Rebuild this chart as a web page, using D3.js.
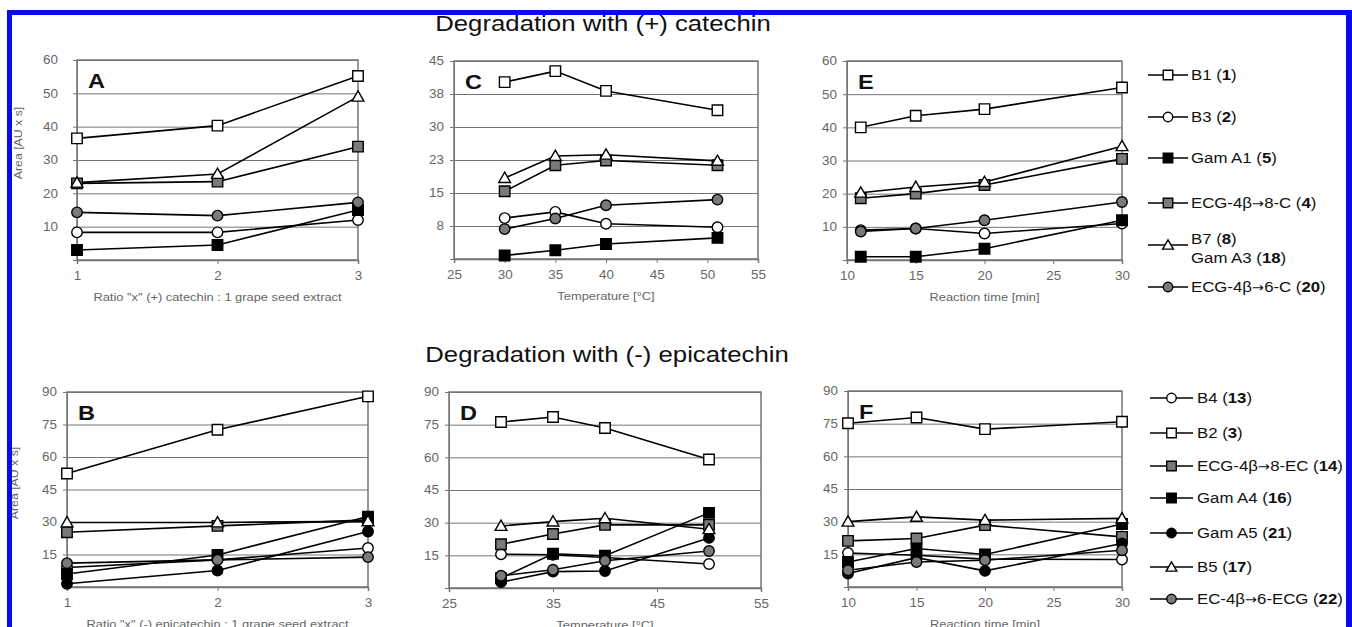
<!DOCTYPE html>
<html>
<head>
<meta charset="utf-8">
<script src="https://cdn.jsdelivr.net/npm/d3@7"></script>
<style>
  html, body { margin: 0; padding: 0; background: #fff; }
  svg { display: block; font-family: "Liberation Sans", Arial, sans-serif; }
</style>
</head>
<body>
<div id="chart"></div>
<script>
// ---- data ----
const titleTop = "Degradation with (+) catechin";
const titleBottom = "Degradation with (-) epicatechin";

const xRatio = [1, 2, 3];
const xTempTop = [30, 35, 40, 51];
const xTimeTop = [11, 15, 20, 30];
const xTempBottom = [30, 35, 40, 50];
const xTimeBottom = [10, 15, 20, 30];

const ticksRatio = [1, 2, 3];
const ticksTempTop = [25, 30, 35, 40, 45, 50, 55];
const ticksTempBottom = [25, 35, 45, 55];
const ticksTime = [10, 15, 20, 25, 30];
const ticksY60 = [10, 20, 30, 40, 50, 60];
const ticksY45 = [7.5, 15, 22.5, 30, 37.5, 45];
const ticksY90 = [15, 30, 45, 60, 75, 90];

// legend order: B1, B3, Gam A1, ECG-4b-8-C, B7/Gam A3, ECG-4b-6-C
const topLabels = [
  [["B1", "1"]], [["B3", "2"]], [["Gam A1", "5"]], [["ECG-4β→8-C", "4"]],
  [["B7", "8"], ["Gam A3", "18"]], [["ECG-4β→6-C", "20"]]
];
const topMarkers = ["sqOpen", "circOpen", "sqBlack", "sqGray", "triOpen", "circGray"];

const valuesA = [
  [36.5, 40.3, 55.2],
  [8.3, 8.3, 12],
  [3, 4.5, 15],
  [23, 23.5, 34],
  [23.2, 25.8, 49],
  [14.3, 13.3, 17.3]
];
const valuesC = [
  [40.2, 42.7, 38.2, 33.8],
  [9.3, 10.7, 8, 7.2],
  [0.8, 2, 3.4, 4.8],
  [15.4, 21.3, 22.4, 21.3],
  [18.4, 23.4, 23.7, 22.3],
  [6.8, 9.2, 12.2, 13.5]
];
const valuesE = [
  [40, 43.5, 45.5, 52],
  [9, 9.5, 8, 11],
  [1, 1, 3.4, 12],
  [18.6, 20, 22.6, 30.5],
  [20.3, 22, 23.5, 34.3],
  [8.6, 9.5, 12, 17.5]
];

// legend order: B4, B2, ECG-4b-8-EC, Gam A4, Gam A5, B5, EC-4b-6-ECG
const bottomLabels = [
  [["B4", "13"]], [["B2", "3"]], [["ECG-4β→8-EC", "14"]], [["Gam A4", "16"]],
  [["Gam A5", "21"]], [["B5", "17"]], [["EC-4β→6-ECG", "22"]]
];
const bottomMarkers = ["circOpen", "sqOpen", "sqGray", "sqBlack", "circBlack", "triOpen", "circGray"];

const valuesB = [
  [9, 12.5, 18],
  [52.4, 72.6, 88],
  [25.3, 28.2, 31],
  [6, 14.8, 32.5],
  [1.5, 7.6, 25.6],
  [29.8, 29.8, 30.3],
  [11, 12.5, 13.8]
];
const valuesD = [
  [15.5, 15.3, 14, 11],
  [76.2, 78.5, 73.5, 59],
  [20.1, 24.8, 29, 29],
  [4.5, 15.7, 14.8, 34.5],
  [2.7, 7.5, 7.8, 23],
  [28.5, 30.5, 32, 27],
  [5.6, 8.4, 12.5, 17]
];
const valuesF = [
  [15.6, 14.6, 12.8, 12.6],
  [75.2, 77.8, 72.5, 75.9],
  [21.2, 22.3, 28.4, 23],
  [11.5, 17.7, 14.9, 28.9],
  [6.2, 13.5, 7.4, 20],
  [30, 32.2, 30.7, 31.5],
  [7.7, 11.5, 12.3, 16.9]
];

// ---- layout ----
const W = 1352, H = 627;
const STRETCH = 1.12; // the scanned figure is a bit wider than tall
const gridColor = "#757575";
const tickColor = "#666";

const panels = [
  { letter: "A", box: [77, 60, 358, 260], xs: xRatio, xDomain: [1, 3], xTicks: ticksRatio,
    yDomain: [0, 60], yTicks: ticksY60, values: valuesA, markers: topMarkers,
    xLabel: 'Ratio "x" (+) catechin : 1 grape seed extract', yLabel: [22, 143], labelGap: 17 },
  { letter: "C", box: [454, 61, 758, 259], xs: xTempTop, xDomain: [25, 55], xTicks: ticksTempTop,
    yDomain: [0, 45], yTicks: ticksY45, values: valuesC, markers: topMarkers,
    xLabel: "Temperature [°C]", labelGap: 9 },
  { letter: "E", box: [847, 61, 1122, 260], xs: xTimeTop, xDomain: [10, 30], xTicks: ticksTime,
    yDomain: [0, 60], yTicks: ticksY60, values: valuesE, markers: topMarkers,
    xLabel: "Reaction time [min]", labelGap: 9 },
  { letter: "B", box: [67, 392, 368, 587], xs: xRatio, xDomain: [1, 3], xTicks: ticksRatio,
    yDomain: [0, 90], yTicks: ticksY90, values: valuesB, markers: bottomMarkers,
    xLabel: 'Ratio "x" (-) epicatechin : 1 grape seed extract', yLabel: [18, 483], labelGap: 9 },
  { letter: "D", box: [449, 392, 761, 588], xs: xTempBottom, xDomain: [25, 55], xTicks: ticksTempBottom,
    yDomain: [0, 90], yTicks: ticksY90, values: valuesD, markers: bottomMarkers,
    xLabel: "Temperature [°C]", labelGap: 9 },
  { letter: "F", box: [848, 391, 1122, 587], xs: xTimeBottom, xDomain: [10, 30], xTicks: ticksTime,
    yDomain: [0, 90], yTicks: ticksY90, values: valuesF, markers: bottomMarkers,
    xLabel: "Reaction time [min]", labelGap: 9 }
];

const svg = d3.select("#chart").append("svg")
  .attr("width", W).attr("height", H)
  .attr("viewBox", `0 0 ${W} ${H}`);

svg.append("rect").attr("width", W).attr("height", H).attr("fill", "#fff");

function stretchedText(parent, x, y, txt, size, anchor, opts) {
  opts = opts || {};
  const t = parent.append("text")
    .attr("transform", `translate(${x},${y})${opts.rotate ? " rotate(" + opts.rotate + ")" : ""} scale(${STRETCH},1)`)
    .attr("font-size", size)
    .attr("text-anchor", anchor)
    .attr("fill", opts.fill || "#111")
    .attr("font-weight", opts.bold ? "bold" : null)
    .text(txt);
  return t;
}

function drawMarker(parent, type, cx, cy, size) {
  const shape = type.startsWith("sq") ? d3.symbolSquare
    : type.startsWith("tri") ? d3.symbolTriangle : d3.symbolCircle;
  const fill = type.endsWith("Open") ? "#fff" : type.endsWith("Gray") ? "#7a7a7a" : "#000";
  let area;
  if (shape === d3.symbolSquare) area = size * size;
  else if (shape === d3.symbolCircle) area = Math.PI * (size / 2) * (size / 2);
  else area = size * size * 0.55;
  const dy = shape === d3.symbolTriangle ? 1 : 0;
  parent.append("path")
    .attr("d", d3.symbol().type(shape).size(area)())
    .attr("transform", `translate(${cx},${cy + dy})`)
    .attr("fill", fill)
    .attr("stroke", "#000")
    .attr("stroke-width", 1.4);
}

// titles
stretchedText(svg, 603, 31, titleTop, 23, "middle", { fill: "#111" });
stretchedText(svg, 607, 362, titleBottom, 23, "middle", { fill: "#111" });

panels.forEach(p => {
  const [x0, y0, x1, y1] = p.box;
  const x = d3.scaleLinear().domain(p.xDomain).range([x0, x1]);
  const y = d3.scaleLinear().domain(p.yDomain).range([y1, y0]);
  const g = svg.append("g");

  // horizontal grid
  g.append("g")
    .attr("transform", `translate(${x0},0)`)
    .call(d3.axisLeft(y).tickValues(p.yTicks).tickSize(-(x1 - x0)).tickFormat(""))
    .call(a => a.select(".domain").remove())
    .call(a => a.selectAll("line").attr("stroke", gridColor).attr("stroke-width", 1));

  // frame
  g.append("rect")
    .attr("x", x0).attr("y", y0).attr("width", x1 - x0).attr("height", y1 - y0)
    .attr("fill", "none").attr("stroke", gridColor).attr("stroke-width", 1.5);

  // y axis labels
  const yAx = g.append("g")
    .attr("transform", `translate(${x0},0)`)
    .call(d3.axisLeft(y).tickValues(p.yTicks).tickSize(4).tickPadding(p.labelGap - 4)
      .tickFormat(d => Math.round(d)));
  yAx.select(".domain").attr("stroke", gridColor);
  yAx.selectAll("line").attr("stroke", gridColor);
  yAx.selectAll("text").attr("font-size", 12).attr("fill", tickColor)
    .attr("font-family", '"Liberation Sans", Arial, sans-serif')
    .attr("transform", `scale(${STRETCH},1)`);

  // x axis
  const xAx = g.append("g")
    .attr("transform", `translate(0,${y1})`)
    .call(d3.axisBottom(x).tickValues(p.xTicks).tickSize(4).tickPadding(7).tickFormat(d3.format("d")));
  xAx.select(".domain").attr("stroke", gridColor).attr("stroke-width", 1.5);
  xAx.selectAll("line").attr("stroke", gridColor);
  xAx.selectAll("text").attr("font-size", 12).attr("fill", tickColor)
    .attr("font-family", '"Liberation Sans", Arial, sans-serif')
    .attr("transform", `scale(${STRETCH},1)`);

  // axis titles (the bottom row is cut by the page edge, as in the scan)
  stretchedText(g, (x0 + x1) / 2, Math.min(y1 + 41, 630), p.xLabel, 11.5, "middle", { fill: tickColor });
  if (p.yLabel) {
    stretchedText(g, p.yLabel[0], p.yLabel[1], "Area [AU x s]", 11, "middle", { fill: tickColor, rotate: -90 });
  }

  // panel letter
  stretchedText(g, x0 + 11, y0 + 28, p.letter, 21, "start", { bold: true, fill: "#111" });

  // series lines
  const line = d3.line().x((d, i) => x(p.xs[i])).y(d => y(d));
  p.values.forEach(vals => {
    g.append("path").attr("d", line(vals))
      .attr("fill", "none").attr("stroke", "#000").attr("stroke-width", 1.6);
  });
  // markers
  p.values.forEach((vals, si) => {
    vals.forEach((v, i) => drawMarker(g, p.markers[si], x(p.xs[i]), y(v), 10.5));
  });
});

// legends
function addLabel(t, s) {
  // the arrow glyph is drawn from DejaVu so it keeps its full width
  s.split(/(→)/).forEach(part => {
    if (!part) return;
    const ts = t.append("tspan").text(part);
    if (part === "→") ts.attr("font-family", '"DejaVu Sans", sans-serif').attr("font-size", 13);
  });
}
function drawLegend(labels, markers, rows, lx0, lx1, tx) {
  const lg = svg.append("g");
  labels.forEach((lines, i) => {
    const cy = rows[i];
    lg.append("line").attr("x1", lx0).attr("x2", lx1).attr("y1", cy).attr("y2", cy)
      .attr("stroke", "#000").attr("stroke-width", 1.6);
    drawMarker(lg, markers[i], (lx0 + lx1) / 2, cy, 9.5);
    lines.forEach((ln, j) => {
      const base = lines.length === 1 ? cy + 5 : (j === 0 ? cy - 1 : cy + 18);
      const t = lg.append("text")
        .attr("transform", `translate(${tx},${base}) scale(${STRETCH},1)`)
        .attr("font-size", 15).attr("fill", "#111");
      addLabel(t, ln[0] + " (");
      t.append("tspan").attr("font-weight", "bold").text(ln[1]);
      t.append("tspan").text(")");
    });
  });
}
drawLegend(topLabels, topMarkers, [75, 117, 158, 203, 245, 287], 1148, 1188, 1191);
drawLegend(bottomLabels, bottomMarkers, [398, 433, 466, 498, 533, 567, 599], 1150, 1193, 1197);

// blue page frame of the scan
const blue = "#0a0af0";
svg.append("rect").attr("x", 7).attr("y", 10).attr("width", 5).attr("height", H - 10).attr("fill", blue);
svg.append("rect").attr("x", 7).attr("y", 10).attr("width", W - 7).attr("height", 5).attr("fill", blue);
svg.append("rect").attr("x", 1346).attr("y", 10).attr("width", 6).attr("height", H - 10).attr("fill", blue);
</script>
</body>
</html>
